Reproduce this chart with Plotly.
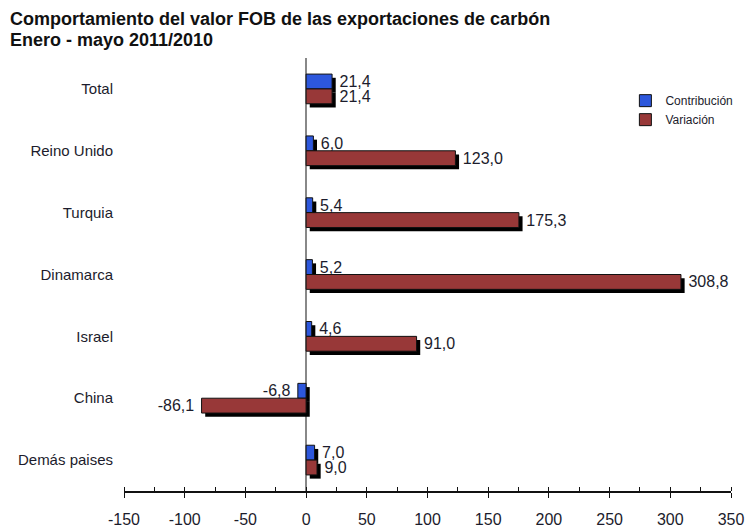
import plotly.graph_objects as go

categories = ["Total", "Reino Unido", "Turquia", "Dinamarca", "Israel", "China", "Demás paises"]
contribucion = [21.4, 6.0, 5.4, 5.2, 4.6, -6.8, 7.0]
variacion = [21.4, 123.0, 175.3, 308.8, 91.0, -86.1, 9.0]
x_ticks = [-150, -100, -50, 0, 50, 100, 150, 200, 250, 300, 350]
title_lines = ["Comportamiento del valor FOB de las exportaciones de carbón",
               "Enero - mayo 2011/2010"]

FONT = "Liberation Sans, Arial"
BLUE = "#2D57DC"
RED = "#983838"
TXT = "#1c1c2c"
W = 0.24          # bar thickness (category units)
SH_Y = 0.06       # shadow vertical shift (category units)
SH_X = 3.0        # shadow horizontal shift (x units)


def labels(vals):
    return [" %{x:.1f}" if v >= 0 else "%{x:.1f} " for v in vals]


fig = go.Figure()

# drop shadows
for vals, off in [(contribucion, -W), (variacion, 0.0)]:
    fig.add_trace(go.Bar(
        y=categories, x=vals, base=[SH_X] * len(vals), orientation="h",
        width=[W] * len(vals), offset=off + SH_Y,
        marker=dict(color="black", line=dict(width=0)),
        showlegend=False, hoverinfo="skip",
    ))

for name, vals, color, off in [("Contribución", contribucion, BLUE, -W),
                               ("Variación", variacion, RED, 0.0)]:
    fig.add_trace(go.Bar(
        y=categories, x=vals, orientation="h", name=name,
        width=[W] * len(categories), offset=off,
        marker=dict(color=color, line=dict(color="#111111", width=1)),
        texttemplate=labels(vals), textposition="outside",
        constraintext="none",
        textfont=dict(family=FONT, size=16, color=TXT),
        cliponaxis=False,
    ))

annotations = []
for i, line in enumerate(title_lines):
    annotations.append(dict(
        text="<b>%s</b>" % line, xref="paper", yref="paper",
        x=-0.1908, y=1.090 - i * 0.048, xanchor="left", yanchor="middle",
        showarrow=False, font=dict(family=FONT, size=18, color="#111111"),
    ))

fig.update_layout(
    width=747, height=529,
    barmode="overlay",
    separators=",.",
    plot_bgcolor="white", paper_bgcolor="white",
    margin=dict(l=124, r=16, t=58, b=38, autoexpand=False),
    annotations=annotations,
    font=dict(family=FONT, size=15, color=TXT),
    legend=dict(
        x=0.826, y=0.935, xanchor="left", yanchor="top",
        font=dict(family=FONT, size=12, color=TXT),
        bgcolor="rgba(0,0,0,0)", itemwidth=30, tracegroupgap=0,
    ),
    xaxis=dict(
        range=[-150, 350], tickvals=x_ticks, ticktext=[str(t) for t in x_ticks],
        automargin=False,
        showgrid=False, zeroline=True, zerolinecolor="#888888", zerolinewidth=1.5,
        showline=True, linecolor="#111111", linewidth=1.5,
        ticks="outside", ticklen=5, tickcolor="#111111",
        ticklabelstandoff=8,
        minor=dict(dtick=25, ticks="inside", ticklen=4, tickcolor="#111111"),
        tickfont=dict(family=FONT, size=16, color=TXT),
    ),
    yaxis=dict(
        autorange="reversed", showgrid=False, showline=False, zeroline=False,
        automargin=False, ticks="", ticklabelstandoff=10,
        tickfont=dict(family=FONT, size=15, color=TXT),
    ),
)

fig.write_html(
    "out.html",
    config={"displayModeBar": False},
    post_script="document.body.style.margin='0';document.body.style.overflow='hidden';",
)
